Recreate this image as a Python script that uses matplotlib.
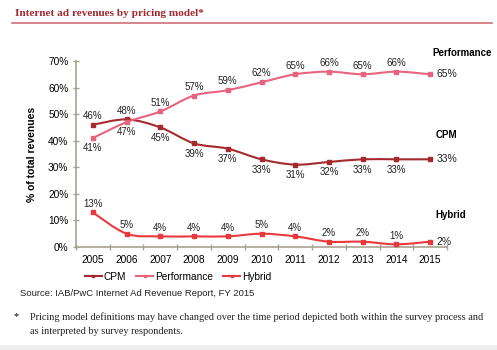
import matplotlib
matplotlib.use("Agg")
import matplotlib.pyplot as plt
from matplotlib.path import Path
from matplotlib.patches import PathPatch, Rectangle
from matplotlib.lines import Line2D
import numpy as np

years = ["2005", "2006", "2007", "2008", "2009", "2010", "2011", "2012", "2013", "2014", "2015"]
cpm = [46, 48, 45, 39, 37, 33, 31, 32, 33, 33, 33]
performance = [41, 47, 51, 57, 59, 62, 65, 66, 65, 66, 65]
hybrid = [13, 5, 4, 4, 4, 5, 4, 2, 2, 1, 2]

# label placement: 'a' above, 'b' below
cpm_pos = ['a', 'a', 'b', 'b', 'b', 'b', 'b', 'b', 'b', 'b']
perf_pos = ['b', 'b', 'a', 'a', 'a', 'a', 'a', 'a', 'a', 'a']
hyb_pos = ['a'] * 10

C_CPM = "#a52a2f"
C_PERF = "#e8647e"
C_HYB = "#e83a3c"
AX_C = "#a8a290"

plt.rcParams['font.family'] = ['Liberation Sans', 'DejaVu Sans']

fig = plt.figure(figsize=(4.97, 3.5), dpi=100)
ax = fig.add_axes([76/497, 1-247/350, (447-76)/497, (247-61)/350])

def smooth_path(xs, ys):
    pts = np.column_stack([xs, ys]).astype(float)
    n = len(pts)
    verts = [pts[0]]
    codes = [Path.MOVETO]
    for i in range(n - 1):
        p0 = pts[i - 1] if i > 0 else pts[i]
        p1 = pts[i]
        p2 = pts[i + 1]
        p3 = pts[i + 2] if i + 2 < n else pts[i + 1]
        c1 = p1 + (p2 - p0) / 6.0
        c2 = p2 - (p3 - p1) / 6.0
        verts += [c1, c2, p2]
        codes += [Path.CURVE4] * 3
    return Path(verts, codes)

x = np.arange(len(years))
for vals, col in [(cpm, C_CPM), (performance, C_PERF), (hybrid, C_HYB)]:
    ax.add_patch(PathPatch(smooth_path(x, vals), facecolor='none', edgecolor=col, lw=1.5, zorder=3))
    ax.plot(x, vals, ls='none', marker='s', ms=2.3, color=col, zorder=4)

def labels(vals, pos):
    for i, v in enumerate(vals[:-1]):
        off = 3.3 if pos[i] == 'a' else -3.9
        ax.text(i, v + off, f"{v}%", ha='center', va='center', fontsize=7, color='#222222')
    ax.text(len(vals) - 1 + 0.2, vals[-1], f"{vals[-1]}%", ha='left', va='center', fontsize=7.5, color='#222222')

labels(cpm, cpm_pos)
labels(performance, perf_pos)
labels(hybrid, hyb_pos)

ax.text(10.06, 73, "Performance", fontsize=7, fontweight='bold', ha='left', va='center', clip_on=False)
ax.text(10.15, 42, "CPM", fontsize=7, fontweight='bold', ha='left', va='center', clip_on=False)
ax.text(10.15, 12, "Hybrid", fontsize=7, fontweight='bold', ha='left', va='center', clip_on=False)

ax.set_xlim(-0.5, 10.5)
ax.set_ylim(0, 70)
ax.set_xticks(x)
ax.set_xticklabels(years)
ax.set_xticks(np.arange(-0.5, 11, 1), minor=True)
ax.set_yticks(np.arange(0, 71, 10))
ax.set_yticklabels([f"{v}%" for v in range(0, 71, 10)])
ax.tick_params(axis='x', which='major', length=0, labelsize=7.3, pad=6)
ax.tick_params(axis='x', which='minor', length=5, direction='inout', color=AX_C, width=1)
ax.tick_params(axis='y', length=5, direction='inout', color=AX_C, width=1, labelsize=7.3, pad=3)
for s in ['top', 'right']:
    ax.spines[s].set_visible(False)
for s in ['left', 'bottom']:
    ax.spines[s].set_color(AX_C)
    ax.spines[s].set_linewidth(1.2)
ax.set_ylabel("% of total revenues", fontsize=7.5, fontweight='bold', labelpad=8)

handles = [Line2D([], [], color=c, lw=1.5, marker='s', ms=2.0) for c in (C_CPM, C_PERF, C_HYB)]
fig.legend(handles, ["CPM", "Performance", "Hybrid"], loc='center', bbox_to_anchor=(178/497, 1-277/350),
           ncol=3, frameon=False, fontsize=7.3, handlelength=1.7, handletextpad=0.15, columnspacing=1.0)

fig.text(15/497, 1-14/350, "Internet ad revenues by pricing model*", fontsize=8.1, fontweight='bold',
         color='#a0282f', family=['Liberation Serif', 'DejaVu Serif'], ha='left', va='center')
fig.add_artist(Line2D([12/497, 492/497], [1-23/350, 1-23/350], color='#d07078', lw=1.2))

fig.text(20/497, 1-293/350, "Source: IAB/PwC Internet Ad Revenue Report, FY 2015", fontsize=6.8,
         ha='left', va='center', color='#222222')
fig.text(13/497, 1-317/350, "*", fontsize=7.4, family=['Liberation Serif', 'DejaVu Serif'], ha='left', va='center')
fig.text(30/497, 1-317/350, "Pricing model definitions may have changed over the time period depicted both within the survey process and",
         fontsize=7.4, family=['Liberation Serif', 'DejaVu Serif'], ha='left', va='center', color='#222222')
fig.text(30/497, 1-331/350, "as interpreted by survey respondents.",
         fontsize=7.4, family=['Liberation Serif', 'DejaVu Serif'], ha='left', va='center', color='#222222')
fig.add_artist(Rectangle((0, 0), 1, 5/350, transform=fig.transFigure, color='#eeeeee', lw=0))

fig.savefig("out.png", dpi=100)
